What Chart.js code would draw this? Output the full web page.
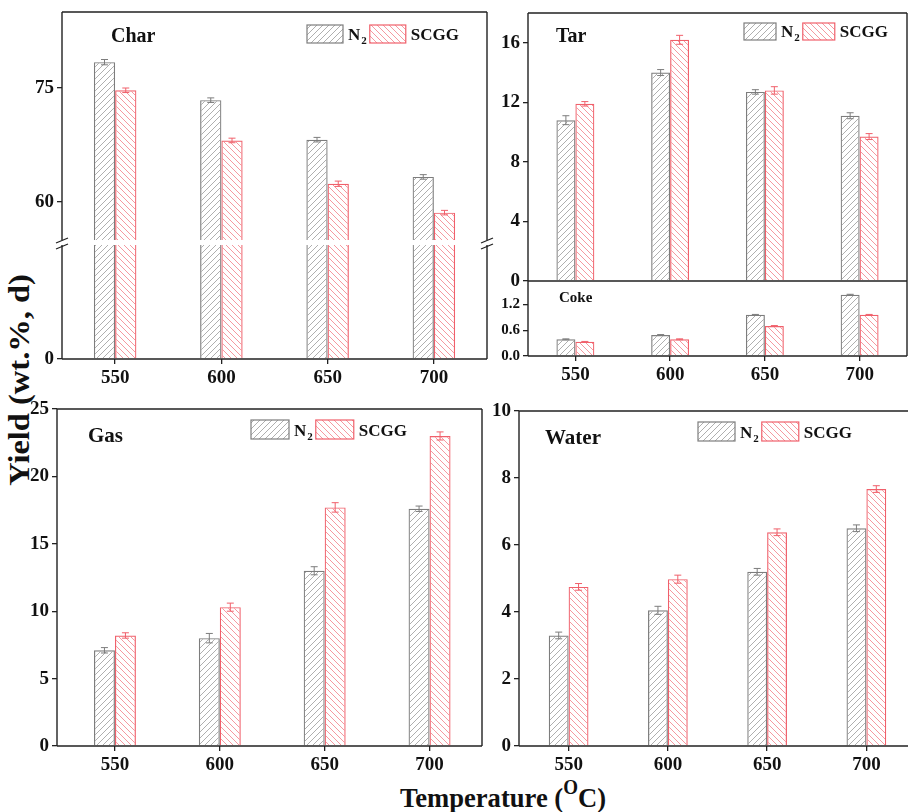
<!DOCTYPE html>
<html>
<head>
<meta charset="utf-8">
<script src="https://cdn.jsdelivr.net/npm/chart.js@4.4.0/dist/chart.umd.min.js"></script>
<style>
    html, body { margin: 0; padding: 0; background: #fff; }
    body { position: relative; width: 908px; height: 812px; overflow: hidden; font-family: 'Liberation Serif', serif; }
    #ytitle { position: absolute; left: 19px; top: 380px; transform: translate(-50%, -50%) rotate(-90deg) scaleX(1.12); font: bold 29px 'Liberation Serif', serif; white-space: nowrap; color: #111; }
    #xtitle { position: absolute; left: 503px; top: 796px; transform: translate(-50%, -50%) scaleX(0.95); font: bold 28px 'Liberation Serif', serif; white-space: nowrap; color: #111; }
    #xtitle sup { font-size: 20px; position: relative; top: -2px; }
</style>
</head>
<body>
<div id="ytitle">Yield (wt.%, d)</div>
<div id="xtitle">Temperature (<sup>O</sup>C)</div>
<script>
// Data
const temps = ['550', '600', '650', '700'];
const seriesNames = ['N2', 'SCGG'];

const charN2 = [78.4, 73.4, 68.2, 63.3];
const charSCGG = [74.7, 68.1, 62.4, 58.6];
const charN2Err = [0.35, 0.3, 0.3, 0.3];
const charSCGGErr = [0.3, 0.3, 0.35, 0.3];

const tarN2 = [10.8, 14.0, 12.7, 11.1];
const tarSCGG = [11.9, 16.2, 12.8, 9.7];
const tarN2Err = [0.3, 0.2, 0.15, 0.2];
const tarSCGGErr = [0.15, 0.3, 0.25, 0.2];

const cokeN2 = [0.39, 0.49, 0.96, 1.43];
const cokeSCGG = [0.33, 0.39, 0.70, 0.96];
const cokeN2Err = [0.01, 0.01, 0.01, 0.01];
const cokeSCGGErr = [0.01, 0.01, 0.01, 0.01];

const gasN2 = [7.1, 8.0, 13.0, 17.6];
const gasSCGG = [8.2, 10.3, 17.7, 23.0];
const gasN2Err = [0.2, 0.35, 0.3, 0.2];
const gasSCGGErr = [0.2, 0.3, 0.35, 0.3];

const waterN2 = [3.3, 4.05, 5.2, 6.5];
const waterSCGG = [4.75, 4.98, 6.38, 7.67];
const waterN2Err = [0.1, 0.12, 0.1, 0.1];
const waterSCGGErr = [0.1, 0.12, 0.1, 0.1];

// Tick labels
const charUpperTicks = [60, 75];
const charLowerTicks = [0];
const tarTicks = [0, 4, 8, 12, 16];
const cokeTicks = [0, 0.6, 1.2];
const gasTicks = [0, 5, 10, 15, 20, 25];
const waterTicks = [0, 2, 4, 6, 8, 10];

const FONT = "'Liberation Serif', serif";
Chart.defaults.font.family = FONT;
const N2_LINE = '#7d7d7d', N2_HATCH = '#9a9a9a';
const SCGG_LINE = '#f0606b', SCGG_HATCH = '#f27f88';

const hatch = (color, dir) => {
    const s = 6, c = document.createElement('canvas');
    c.width = c.height = s;
    const g = c.getContext('2d');
    g.strokeStyle = color; g.lineWidth = 0.8;
    g.beginPath();
    if (dir > 0) {
        g.moveTo(-1, s + 1); g.lineTo(s + 1, -1);
        g.moveTo(-1, 1); g.lineTo(1, -1);
        g.moveTo(s - 1, s + 1); g.lineTo(s + 1, s - 1);
    } else {
        g.moveTo(-1, -1); g.lineTo(s + 1, s + 1);
        g.moveTo(-1, s - 1); g.lineTo(1, s + 1);
        g.moveTo(s - 1, -1); g.lineTo(s + 1, 1);
    }
    g.stroke();
    return g.createPattern(c, 'repeat');
};
const N2_FILL = hatch(N2_HATCH, 1);
const SCGG_FILL = hatch(SCGG_HATCH, -1);

// Frame, break marks, panel title, legend and error bars
const panelPlugin = {
    id: 'panel',
    afterLayout(chart, args, o) {
        // shift category positions inward where the original axis is slightly offset
        if (o.xInset) {
            const x = chart.scales.x;
            x._startPixel += o.xInset[0];
            x._endPixel -= o.xInset[1];
            x._length = x._endPixel - x._startPixel;
        }
    },
    afterDatasetsDraw(chart, args, o) {
        const { ctx, chartArea: a } = chart;
        ctx.save();
        // error bars
        if (o.errors) {
            const y = chart.scales.y;
            chart.data.datasets.forEach((d, di) => {
                chart.getDatasetMeta(di).data.forEach((bar, i) => {
                    const v = d.data[i], e = d.errors[i];
                    const y1 = y.getPixelForValue(v + e), y2 = y.getPixelForValue(v - e);
                    ctx.strokeStyle = d.borderColor; ctx.lineWidth = 1;
                    ctx.beginPath();
                    ctx.moveTo(bar.x, y1); ctx.lineTo(bar.x, y2);
                    ctx.moveTo(bar.x - 3.5, y1); ctx.lineTo(bar.x + 3.5, y1);
                    ctx.moveTo(bar.x - 3.5, y2); ctx.lineTo(bar.x + 3.5, y2);
                    ctx.stroke();
                });
            });
        }
        // frame
        ctx.strokeStyle = '#222'; ctx.lineWidth = 1.4;
        ctx.beginPath();
        const s = o.sides || '';
        if (s.includes('l')) { ctx.moveTo(a.left, a.top); ctx.lineTo(a.left, a.bottom); }
        if (s.includes('r')) { ctx.moveTo(a.right, a.top); ctx.lineTo(a.right, a.bottom); }
        if (s.includes('t')) { ctx.moveTo(a.left, a.top); ctx.lineTo(a.right, a.top); }
        if (s.includes('b')) { ctx.moveTo(a.left, a.bottom); ctx.lineTo(a.right, a.bottom); }
        ctx.stroke();
        // axis break marks
        if (o.breakMarks) {
            ctx.lineWidth = 1.3;
            ctx.beginPath();
            [a.left, a.right].forEach(x => {
                ctx.moveTo(x - 6, a.top - 2); ctx.lineTo(x + 6, a.top - 7);
                ctx.moveTo(x - 6, a.top + 4); ctx.lineTo(x + 6, a.top - 1);
            });
            ctx.stroke();
        }
        // title
        if (o.title) {
            ctx.fillStyle = '#111';
            ctx.font = `bold ${o.title.size}px ${FONT}`;
            ctx.textBaseline = 'alphabetic';
            ctx.fillText(o.title.text, a.left + o.title.x, a.top + o.title.y);
        }
        // legend
        if (o.legend) {
            const L = o.legend;
            let x = a.left + L.x;
            const y = a.top + L.y;
            chart.data.datasets.forEach(d => {
                ctx.fillStyle = d.backgroundColor;
                ctx.fillRect(x, y, L.w, L.h);
                ctx.strokeStyle = d.borderColor; ctx.lineWidth = 1.2;
                ctx.strokeRect(x, y, L.w, L.h);
                x += L.w + 5;
                const m = d.label.match(/^(\D+)(\d*)$/);
                ctx.fillStyle = '#111';
                ctx.font = `bold 17px ${FONT}`;
                ctx.fillText(m[1], x, y + L.h - 3);
                x += ctx.measureText(m[1]).width;
                if (m[2]) {
                    ctx.font = `bold 11px ${FONT}`;
                    ctx.fillText(m[2], x + 1, y + L.h + 1);
                    x += ctx.measureText(m[2]).width + 1;
                }
                x += 3;
            });
        }
        ctx.restore();
    }
};

const makeDatasets = (n2, scgg, n2Err, scggErr) => [
    { label: seriesNames[0], data: n2, errors: n2Err, backgroundColor: N2_FILL, borderColor: N2_LINE, borderWidth: 1.2, clip: 0, categoryPercentage: 0.4, barPercentage: 1 },
    { label: seriesNames[1], data: scgg, errors: scggErr, backgroundColor: SCGG_FILL, borderColor: SCGG_LINE, borderWidth: 1.2, clip: 0, categoryPercentage: 0.4, barPercentage: 1 }
];

const makeChart = (area, cfg) => {
    const padT = 14, padR = 14, yW = 60;
    const xH = cfg.xLabels ? 40 : 0, padB = cfg.xLabels ? 0 : 12;
    const w = yW + (area.r - area.l) + padR, h = padT + (area.b - area.t) + xH + padB;
    const cv = document.createElement('canvas');
    cv.width = w; cv.height = h;
    cv.style.cssText = `position:absolute;left:${area.l - yW}px;top:${area.t - padT}px;width:${w}px;height:${h}px`;
    document.body.appendChild(cv);
    return new Chart(cv, {
        type: 'bar',
        data: { labels: temps, datasets: cfg.datasets },
        plugins: [panelPlugin],
        options: {
            responsive: false, animation: false,
            layout: { padding: { top: padT, right: padR, left: 0, bottom: padB } },
            plugins: { legend: { display: false }, tooltip: { enabled: false }, panel: cfg.panel },
            scales: {
                x: {
                    display: !!cfg.xLabels,
                    afterFit: s => { s.height = xH; s.paddingLeft = 0; s.paddingRight = 0; },
                    border: { display: false },
                    grid: { display: true, drawOnChartArea: false, offset: false, tickLength: 5, color: '#222', lineWidth: 1.3 },
                    ticks: { color: '#111', padding: 3, font: { family: FONT, size: 19, weight: 'bold' } }
                },
                y: {
                    min: cfg.min, max: cfg.max,
                    afterFit: s => { s.width = yW; s.paddingTop = 0; s.paddingBottom = 0; },
                    afterBuildTicks: s => { s.ticks = cfg.ticks.map(v => ({ value: v })); },
                    border: { display: false },
                    grid: { display: true, drawOnChartArea: false, tickLength: 5, color: '#222', lineWidth: 1.3 },
                    ticks: {
                        color: '#111', padding: 3,
                        font: { family: FONT, size: cfg.tickSize || 19, weight: 'bold' },
                        callback: v => cfg.fmt ? cfg.fmt(v) : v
                    }
                }
            }
        }
    });
};

// Char (broken axis: upper and lower parts)
makeChart({ l: 62, t: 12, r: 487, b: 240 }, {
    datasets: makeDatasets(charN2, charSCGG, charN2Err, charSCGGErr),
    min: 55, max: 85, ticks: charUpperTicks, xLabels: false,
    panel: { sides: 'ltr', errors: true, title: { text: 'Char', x: 49, y: 30, size: 20 }, legend: { x: 245, y: 13, w: 36, h: 18 } }
});
makeChart({ l: 62, t: 245, r: 487, b: 359 }, {
    datasets: makeDatasets(charN2, charSCGG, charN2Err, charSCGGErr),
    min: 0, max: 10, ticks: charLowerTicks, xLabels: true,
    panel: { sides: 'lbr', breakMarks: true }
});

// Tar and Coke
makeChart({ l: 528, t: 13, r: 907, b: 281 }, {
    datasets: makeDatasets(tarN2, tarSCGG, tarN2Err, tarSCGGErr),
    min: 0, max: 18, ticks: tarTicks, xLabels: false,
    panel: { sides: 'ltr', errors: true, title: { text: 'Tar', x: 28, y: 29, size: 20 }, legend: { x: 216, y: 10, w: 32, h: 17 } }
});
makeChart({ l: 528, t: 281, r: 907, b: 356 }, {
    datasets: makeDatasets(cokeN2, cokeSCGG, cokeN2Err, cokeSCGGErr),
    min: 0, max: 1.75, ticks: cokeTicks, xLabels: true, tickSize: 15, fmt: v => v.toFixed(1),
    panel: { sides: 'ltrb', errors: true, title: { text: 'Coke', x: 31, y: 21, size: 15 } }
});

// Gas
makeChart({ l: 57, t: 409, r: 482, b: 746 }, {
    datasets: makeDatasets(gasN2, gasSCGG, gasN2Err, gasSCGGErr),
    min: 0, max: 25, ticks: gasTicks, xLabels: true,
    panel: { sides: 'ltrb', errors: true, xInset: [5.5, 0], title: { text: 'Gas', x: 31, y: 33, size: 21 }, legend: { x: 194, y: 11, w: 38, h: 19 } }
});

// Water
makeChart({ l: 519, t: 411, r: 916, b: 746 }, {
    datasets: makeDatasets(waterN2, waterSCGG, waterN2Err, waterSCGGErr),
    min: 0, max: 10, ticks: waterTicks, xLabels: true,
    panel: { sides: 'ltrb', errors: true, title: { text: 'Water', x: 26, y: 33, size: 21 }, legend: { x: 179, y: 11, w: 37, h: 19 } }
});
</script>
</body>
</html>
